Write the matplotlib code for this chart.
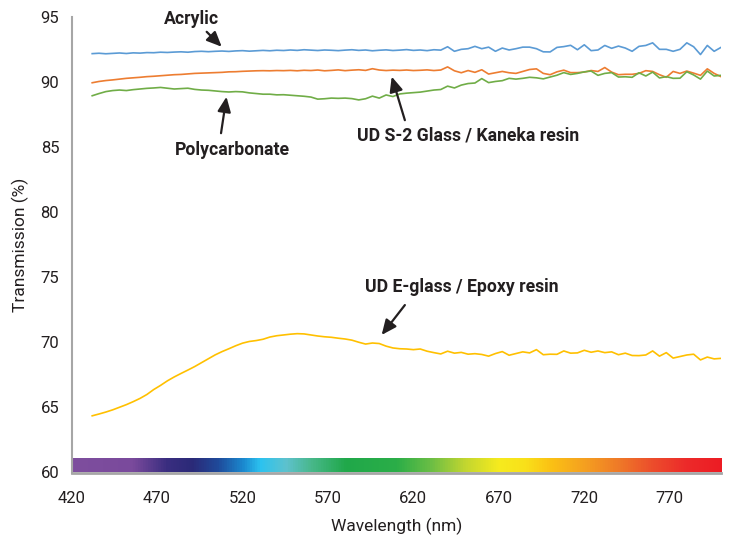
import numpy as np
import matplotlib
matplotlib.use("Agg")
import matplotlib.pyplot as plt
from matplotlib.colors import LinearSegmentedColormap

plt.rcParams['font.family'] = ['Roboto', 'DejaVu Sans']

# wavelength grid (nm), 4 nm step
wavelength = np.arange(432, 801, 4)

acrylic = [
    92.22, 92.25, 92.21, 92.24, 92.27, 92.23, 92.28, 92.26, 92.30, 92.29,
    92.33, 92.31, 92.34, 92.36, 92.33, 92.38, 92.40, 92.37, 92.40, 92.42,
    92.39, 92.43, 92.45, 92.41, 92.44, 92.47, 92.44, 92.48, 92.46, 92.50,
    92.47, 92.52, 92.49, 92.46, 92.50, 92.48, 92.45, 92.49, 92.52, 92.47,
    92.50, 92.44, 92.48, 92.51, 92.46, 92.49, 92.53, 92.47, 92.50, 92.45,
    92.52, 92.49,
    92.75, 92.40, 92.55, 92.60, 92.78, 92.60, 92.72, 92.40, 92.65, 92.50,
    92.60, 92.72, 92.72, 92.60, 92.36, 92.35, 92.70, 92.76, 92.86, 92.52,
    92.90, 92.45, 92.50, 92.85, 92.63, 92.80, 92.65, 92.40, 92.78, 92.85,
    93.05, 92.55, 92.55, 92.40, 92.55, 93.05, 92.75, 92.15, 92.85, 92.40,
    92.70,
]

s2_glass = [
    89.98, 90.08, 90.15, 90.20, 90.26, 90.32, 90.36, 90.40, 90.45, 90.48,
    90.52, 90.56, 90.60, 90.62, 90.66, 90.70, 90.72, 90.74, 90.76, 90.78,
    90.82, 90.83, 90.86, 90.88, 90.90, 90.91, 90.90, 90.92, 90.91, 90.93,
    90.90, 90.94, 90.92, 90.96, 90.90, 90.93, 90.97, 90.91, 90.95, 90.98,
    90.93, 91.06, 90.96, 90.92, 90.95, 90.93, 90.96, 90.92, 90.94, 90.97,
    90.92, 90.96,
    91.20, 90.90, 90.75, 90.92, 90.78, 90.98, 90.65, 90.75, 90.85, 90.75,
    90.70, 90.85, 91.00, 91.05, 90.70, 90.60, 90.82, 90.95, 90.76, 90.76,
    90.80, 90.92, 90.85, 91.15, 90.80, 90.60, 90.63, 90.63, 90.70, 90.91,
    90.85, 90.60, 90.40, 90.85, 90.70, 90.88, 90.72, 90.55, 91.05, 90.70,
    90.45,
]

polycarbonate = [
    88.98, 89.15, 89.30, 89.38, 89.42, 89.38, 89.45, 89.50, 89.55, 89.58,
    89.62, 89.56, 89.50, 89.53, 89.56, 89.47, 89.42, 89.40, 89.35, 89.30,
    89.27, 89.30, 89.28, 89.20, 89.15, 89.10, 89.10, 89.05, 89.06, 89.02,
    88.98, 88.94, 88.88, 88.72, 88.75, 88.80, 88.78, 88.80, 88.76, 88.66,
    88.75, 88.95, 88.80, 89.04, 88.92, 89.12, 89.18, 89.22, 89.26, 89.34,
    89.42, 89.46, 89.72, 89.58, 89.80, 89.92, 89.96,
    90.30, 89.99, 90.08, 90.14, 90.32, 90.26, 90.32, 90.40, 90.36, 90.28,
    90.42, 90.56, 90.76, 90.62, 90.70, 90.82, 90.88, 90.55, 90.70, 90.76,
    90.42, 90.44, 90.40, 90.75, 90.50, 90.80, 90.35, 90.45, 90.32, 90.33,
    90.83, 90.58, 90.26, 90.88, 90.50, 90.55,
]

e_glass = [
    64.36, 64.50, 64.65, 64.82, 65.02, 65.22, 65.45, 65.70, 66.00, 66.38,
    66.70, 67.05, 67.35, 67.62, 67.88, 68.15, 68.45, 68.75, 69.05, 69.30,
    69.52, 69.75, 69.95, 70.08, 70.15, 70.25, 70.42, 70.52, 70.58, 70.64,
    70.68, 70.66, 70.58, 70.50, 70.44, 70.40, 70.33, 70.27, 70.18, 70.02,
    69.88, 69.96, 69.92, 69.72, 69.58, 69.52, 69.50, 69.45, 69.50, 69.33,
    69.22, 69.12, 69.33, 69.18, 69.24, 69.10, 69.14, 69.08, 68.95, 69.15,
    69.30, 69.02, 69.15, 69.28, 69.20, 69.45, 69.06, 69.10, 69.09, 69.35,
    69.18, 69.20, 69.40, 69.25, 69.35, 69.22, 69.28, 69.06, 69.18, 69.00,
    68.99, 69.04, 69.35, 68.95, 69.22, 68.80, 68.92, 69.04, 69.10, 68.66,
    68.88, 68.74, 68.78,
]

x_ticks = [420, 470, 520, 570, 620, 670, 720, 770]
y_ticks = [60, 65, 70, 75, 80, 85, 90, 95]

# visible spectrum strip colours
spectrum_nm = [420, 455, 475, 490, 505, 520, 530, 545, 560, 580, 610, 630,
               650, 670, 685, 700, 720, 740, 760, 780, 800]
spectrum_col = ['#7E4E9E', '#7A4A9C', '#3A2E80', '#2B2A78', '#1F4A9A',
                '#1B8AD0', '#2CC3F0', '#5EC2CE', '#48B88A', '#20A84A',
                '#2BAE48', '#6BBE45', '#C2D630', '#F6EB1E', '#F9E11A',
                '#FBC214', '#F5A020', '#EF7A28', '#EC4D2C', '#EC2A2A',
                '#ED1C24']

fig = plt.figure(figsize=(7.33, 5.40), dpi=100)
ax = fig.add_axes([0.0978, 0.125, 0.8858, 0.8426])

pos = [(v - 420) / 380 for v in spectrum_nm]
cmap = LinearSegmentedColormap.from_list('spec', list(zip(pos, spectrum_col)))
grad = np.linspace(0, 1, 512).reshape(1, -1)
ax.imshow(grad, cmap=cmap, aspect='auto', extent=[420, 800, 60, 61],
          origin='lower', zorder=1)

ax.plot(wavelength, acrylic, color='#5B9BD5', lw=1.2, zorder=3)
ax.plot(wavelength, s2_glass, color='#ED7D31', lw=1.2, zorder=3)
ax.plot(wavelength, polycarbonate, color='#70AD47', lw=1.2, zorder=3)
ax.plot(wavelength, e_glass, color='#FFC000', lw=1.2, zorder=3)

ax.set_xlim(420, 800)
ax.set_ylim(60, 95)
ax.set_xticks(x_ticks)
ax.set_yticks(y_ticks)
ax.tick_params(axis='both', length=0, labelsize=12, colors='#231F20')
ax.tick_params(axis='x', pad=13)
ax.tick_params(axis='y', pad=9)

for s in ['top', 'right']:
    ax.spines[s].set_visible(False)
ax.spines['left'].set_color('#A6A6A6')
ax.spines['left'].set_linewidth(1.5)
ax.spines['bottom'].set_color('#A6A6A6')
ax.spines['bottom'].set_linewidth(2)

ax.set_xlabel('Wavelength (nm)', fontsize=12.5, color='#231F20')
ax.set_ylabel('Transmission (%)', fontsize=12.5, color='#231F20')
ax.xaxis.set_label_coords(0.5, -0.100)
ax.yaxis.set_label_coords(-0.065, 0.5)

arrow = dict(arrowstyle='-|>,head_length=0.9,head_width=0.4', color='#231F20',
             lw=1.6, shrinkA=0, shrinkB=0)
txt = dict(fontsize=12.7, fontweight='bold', color='#231F20',
           ha='center', va='center')

ax.text(490.2, 94.85, 'Acrylic', **txt)
ax.annotate('', xy=(507.8, 92.75), xytext=(499, 93.9), arrowprops=arrow)

ax.text(513.8, 84.8, 'Polycarbonate', **txt)
ax.annotate('', xy=(510.6, 88.9), xytext=(507.4, 86.1), arrowprops=arrow)

ax.text(652.2, 85.96, 'UD S-2 Glass / Kaneka resin', **txt)
ax.annotate('', xy=(607.3, 90.45), xytext=(615, 87.1), arrowprops=arrow)

ax.text(648, 74.27, 'UD E-glass / Epoxy resin', **txt)
ax.annotate('', xy=(601.4, 70.58), xytext=(615, 72.88), arrowprops=arrow)

fig.savefig('out.png', dpi=100)
